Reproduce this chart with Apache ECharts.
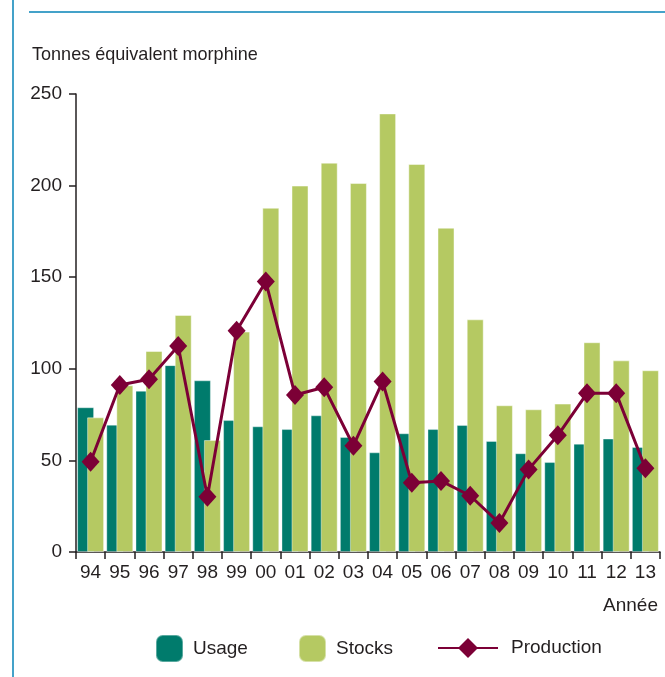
<!DOCTYPE html>
<html>
<head>
<meta charset="utf-8">
<script src="https://cdn.jsdelivr.net/npm/echarts@6/dist/echarts.min.js"></script>
<style>
  html, body { margin: 0; padding: 0; background: #fff; }
  #chart { width: 665px; height: 677px; }
</style>
</head>
<body>
<div id="chart"></div>
<script>
// Years (two-digit labels)
const years = ['94','95','96','97','98','99','00','01','02','03','04','05','06','07','08','09','10','11','12','13'];

// Tonnes équivalent morphine
const usage = [79, 69.5, 88, 102, 93.7, 72, 68.6, 67.1, 74.6, 62.8, 54.4, 64.8, 67.1, 69.3, 60.6, 53.9, 49.1, 59.1, 61.9, 57.3];
const stocks = [73.5, 91, 109.7, 129.4, 61.1, 120.3, 187.9, 200, 212.5, 201.4, 239.4, 211.8, 177, 127, 80.1, 77.9, 81, 114.5, 104.6, 99.2];
const production = [49.3, 91.2, 94.3, 112.4, 30.2, 120.8, 147.6, 85.7, 89.9, 58, 93, 37.8, 38.8, 30.7, 15.8, 45.1, 63.7, 86.6, 86.6, 45.7];

const yTicks = { min: 0, max: 250, interval: 50 };

const FONT = '"Liberation Sans", Arial, sans-serif';
const FS = 19;
const TEXT = '#231f20';
const C_USAGE = '#007b6c';
const C_STOCKS = '#b5c962';
const C_PROD = '#7c0036';
const C_FRAME = '#44a2c9';

const chart = echarts.init(document.getElementById('chart'), null, { renderer: 'canvas' });

const legendText = { color: TEXT, fontFamily: FONT, fontSize: FS, padding: [0, 0, 0, 5] };

chart.setOption({
  animation: false,
  backgroundColor: '#fff',
  textStyle: { fontFamily: FONT },
  grid: { left: 76, right: 5, top: 94, bottom: 125, containLabel: false },
  xAxis: {
    type: 'category',
    data: years,
    axisLine: { lineStyle: { color: TEXT, width: 1.5 } },
    axisTick: { show: true, length: 7, lineStyle: { color: TEXT, width: 1.5 } },
    axisLabel: { color: TEXT, fontSize: FS, fontFamily: FONT, margin: 11, interval: 0 },
    splitLine: { show: false }
  },
  yAxis: {
    type: 'value',
    min: yTicks.min, max: yTicks.max, interval: yTicks.interval,
    axisLine: { show: true, lineStyle: { color: TEXT, width: 1.5 } },
    axisTick: { show: true, length: 7, lineStyle: { color: TEXT, width: 1.5 } },
    axisLabel: { color: TEXT, fontSize: FS, fontFamily: FONT, margin: 14 },
    splitLine: { show: false }
  },
  legend: [
    {
      data: ['Usage'], left: 155, top: 634, padding: 0,
      itemWidth: 27, itemHeight: 27, textStyle: legendText,
      selectedMode: false
    },
    {
      data: ['Stocks'], left: 298, top: 634, padding: 0,
      itemWidth: 27, itemHeight: 27, textStyle: legendText,
      selectedMode: false
    },
    {
      data: ['Production'], left: 437, top: 638, padding: 0,
      itemWidth: 60, itemHeight: 25, textStyle: Object.assign({}, legendText, { padding: [0, 0, 0, 8] }),
      selectedMode: false
    }
  ],
  graphic: [
    { type: 'rect', shape: { x: 12, y: 0, width: 2, height: 677 }, style: { fill: C_FRAME }, silent: true },
    { type: 'rect', shape: { x: 29, y: 11, width: 636, height: 2 }, style: { fill: C_FRAME }, silent: true },
    {
      type: 'text', x: 32, y: 45, scaleX: 0.95,
      style: { text: 'Tonnes équivalent morphine', fill: TEXT, font: FS + 'px ' + FONT }
    },
    {
      type: 'text', right: 7, top: 596,
      style: { text: 'Année', fill: TEXT, font: FS + 'px ' + FONT, textAlign: 'right' }
    }
  ],
  series: [
    {
      name: 'Usage', type: 'bar', data: usage,
      barWidth: 17, barGap: '-41%',
      itemStyle: { color: C_USAGE, borderColor: 'rgba(255,255,255,0.35)', borderWidth: 1 }
    },
    {
      name: 'Stocks', type: 'bar', data: stocks,
      barWidth: 17, barGap: '-41%',
      itemStyle: { color: C_STOCKS, borderColor: 'rgba(255,255,255,0.45)', borderWidth: 1 }
    },
    {
      name: 'Production', type: 'line', data: production,
      symbol: 'diamond', symbolSize: [18, 20],
      lineStyle: { color: C_PROD, width: 3 },
      itemStyle: { color: C_PROD },
      z: 5
    }
  ]
});
</script>
</body>
</html>
